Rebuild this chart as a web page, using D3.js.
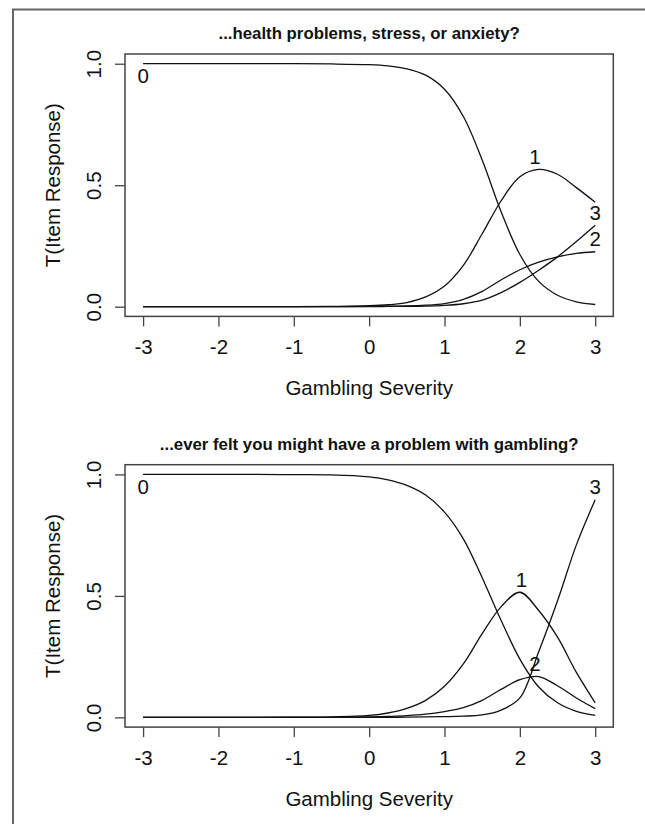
<!DOCTYPE html>
<html>
<head>
<meta charset="utf-8">
<script src="https://cdn.jsdelivr.net/npm/d3@7"></script>
<style>
  html, body { margin: 0; padding: 0; background: #fff; }
  svg { display: block; }
  text { font-family: "Liberation Sans", Arial, Helvetica, sans-serif; fill: #111; }
</style>
</head>
<body>
<script>
// ---- data ----
const theta = [-3, -2.5, -2, -1.5, -1, -0.5, 0, 0.25, 0.5, 0.75, 1, 1.25, 1.5, 1.75, 2, 2.25, 2.5, 2.75, 3];

const titles = ["...health problems, stress, or anxiety?",
                "...ever felt you might have a problem with gambling?"];

// panel 1 category response curves
const p1cat0 = [1, 1, 1, 1, 1, 0.999, 0.996, 0.991, 0.979, 0.953, 0.895, 0.783, 0.604, 0.392, 0.215, 0.104, 0.047, 0.020, 0.009];
const p1cat1 = [0, 0, 0, 0, 0, 0.001, 0.004, 0.008, 0.017, 0.040, 0.085, 0.170, 0.300, 0.435, 0.535, 0.565, 0.545, 0.490, 0.430];
const p1cat2 = [0, 0, 0, 0, 0, 0, 0.001, 0.002, 0.003, 0.006, 0.013, 0.030, 0.063, 0.110, 0.152, 0.183, 0.205, 0.219, 0.226];
const p1cat3 = [0, 0, 0, 0, 0, 0, 0, 0.001, 0.001, 0.002, 0.005, 0.012, 0.027, 0.058, 0.100, 0.150, 0.205, 0.268, 0.335];

// panel 2 category response curves
const p2cat0 = [1, 1, 1, 1, 0.999, 0.998, 0.990, 0.978, 0.955, 0.915, 0.845, 0.735, 0.575, 0.400, 0.240, 0.125, 0.060, 0.025, 0.008];
const p2cat1 = [0, 0, 0, 0, 0.001, 0.002, 0.008, 0.018, 0.037, 0.070, 0.128, 0.220, 0.345, 0.455, 0.515, 0.440, 0.330, 0.185, 0.060];
const p2cat2 = [0, 0, 0, 0, 0, 0, 0.002, 0.004, 0.007, 0.013, 0.024, 0.040, 0.070, 0.115, 0.155, 0.168, 0.130, 0.080, 0.036];
const p2cat3 = [0, 0, 0, 0, 0, 0, 0, 0, 0.001, 0.002, 0.003, 0.005, 0.010, 0.030, 0.080, 0.270, 0.480, 0.710, 0.896];

// curve labels: [text, theta, value, placement]
const p1labels = [["0", -3, 1, "below"], ["1", 2.2, 0.565, "above"], ["3", 3, 0.335, "above"], ["2", 3, 0.226, "above"]];
const p2labels = [["0", -3, 1, "below"], ["1", 2.02, 0.515, "above"], ["2", 2.2, 0.168, "above"], ["3", 3, 0.896, "above"]];

const xTicks = [-3, -2, -1, 0, 1, 2, 3];
const yTicks = [0, 0.5, 1];
const xLabel = "Gambling Severity";
const yLabel = "T(Item Response)";

const panels = [
  { title: titles[0], series: [p1cat0, p1cat1, p1cat2, p1cat3], labels: p1labels, dy: 0 },
  { title: titles[1], series: [p2cat0, p2cat1, p2cat2, p2cat3], labels: p2labels, dy: 410.7 }
];

// ---- drawing ----
const W = 645, H = 824;
const svg = d3.select("body").append("svg").attr("width", W).attr("height", H);

// outer frame
svg.append("rect").attr("x", 13).attr("y", 9.5).attr("width", W + 20).attr("height", H + 20)
  .attr("fill", "none").attr("stroke", "#666").attr("stroke-width", 2);

const box = { x0: 125, x1: 613.3, y0: 54, y1: 316.4 };
const fs = 20.5;

panels.forEach(p => {
  const g = svg.append("g").attr("transform", `translate(0,${p.dy})`);
  const x = d3.scaleLinear().domain([-3.24, 3.24]).range([box.x0, box.x1]);
  const y = d3.scaleLinear().domain([-0.04, 1.04]).range([box.y1, box.y0]);

  // box
  g.append("rect").attr("x", box.x0).attr("y", box.y0)
    .attr("width", box.x1 - box.x0).attr("height", box.y1 - box.y0)
    .attr("fill", "none").attr("stroke", "#444").attr("stroke-width", 1.5);

  // x axis
  const xa = g.append("g").attr("transform", `translate(0,${box.y1})`)
    .call(d3.axisBottom(x).tickValues(xTicks).tickSize(10).tickFormat(d3.format("d")));
  xa.select(".domain").remove();
  xa.selectAll(".tick line").attr("stroke", "#444").attr("stroke-width", 1.3);
  xa.selectAll(".tick text").attr("y", 30.6).attr("dy", "0.35em")
    .style("font-size", fs + "px").style("font-family", "Liberation Sans, Arial, sans-serif").attr("fill", "#111")
    .text(d => d < 0 ? "-" + Math.abs(d) : d);

  // y axis
  const ya = g.append("g").attr("transform", `translate(${box.x0},0)`)
    .call(d3.axisLeft(y).tickValues(yTicks).tickSize(10).tickFormat(d3.format(".1f")));
  ya.select(".domain").remove();
  ya.selectAll(".tick line").attr("stroke", "#444").attr("stroke-width", 1.3);
  ya.selectAll(".tick text").attr("transform", "rotate(-90)")
    .attr("x", 0).attr("y", -31).attr("dy", "0.35em").attr("text-anchor", "middle")
    .style("font-size", fs + "px").style("font-family", "Liberation Sans, Arial, sans-serif").attr("fill", "#111");

  // axis titles
  g.append("text").attr("x", (box.x0 + box.x1) / 2).attr("y", 388).attr("dy", "0.35em")
    .attr("text-anchor", "middle").style("font-size", fs + "px").text(xLabel);
  g.append("text").attr("transform", `translate(53,${(box.y0 + box.y1) / 2}) rotate(-90)`)
    .attr("dy", "0.35em").attr("text-anchor", "middle").style("font-size", fs + "px").text(yLabel);

  // main title
  g.append("text").attr("x", (box.x0 + box.x1) / 2).attr("y", 33).attr("dy", "0.35em")
    .attr("text-anchor", "middle").style("font-size", "16.8px").style("font-weight", "bold").text(p.title);

  // curves
  const line = d3.line().x((d, i) => x(theta[i])).y(d => y(d)).curve(d3.curveCatmullRom.alpha(0.5));
  p.series.forEach(s => {
    g.append("path").datum(s).attr("d", line)
      .attr("fill", "none").attr("stroke", "#111").attr("stroke-width", 1.3);
  });

  // curve labels
  p.labels.forEach(([t, tx, v, pos]) => {
    g.append("text").attr("x", x(tx)).attr("y", y(v) + (pos === "below" ? 12.5 : -12.5))
      .attr("dy", "0.35em").attr("text-anchor", "middle").style("font-size", fs + "px").text(t);
  });
});
</script>
</body>
</html>
